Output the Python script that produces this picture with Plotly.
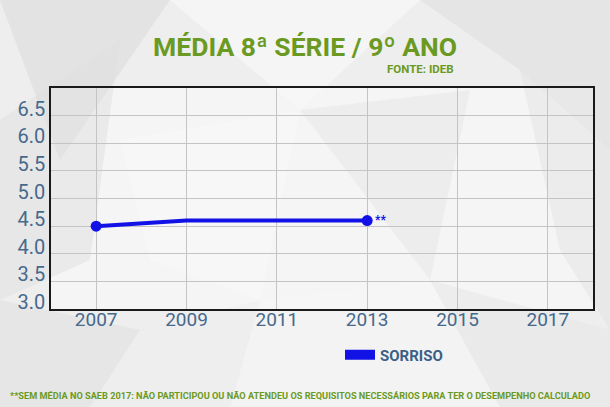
import plotly.graph_objects as go

# ---- data ----
years = [2007, 2009, 2011, 2013]
media_sorriso = [4.5, 4.6, 4.6, 4.6]
point_notes = ["", "", "", "**"]
x_ticks = [2007, 2009, 2011, 2013, 2015, 2017]
y_ticks = [3.0, 3.5, 4.0, 4.5, 5.0, 5.5, 6.0, 6.5]

title_text = "MÉDIA 8ª SÉRIE / 9º ANO"
source_text = "FONTE: IDEB"
series_name = "SORRISO"
footnote_text = ("**SEM MÉDIA NO SAEB 2017: NÃO PARTICIPOU OU NÃO ATENDEU OS REQUISITOS "
                 "NECESSÁRIOS PARA TER O DESEMPENHO CALCULADO")

# ---- style ----
W, H = 610, 407
ML, MR, MT, MB = 51, 17, 88, 98
PW, PH = W - ML - MR, H - MT - MB
GREEN = "#6b9a22"
AXIS_TXT = "#46698c"
BLUE = "#1212e6"
FONT = "Roboto"


def px_to_paper(px, py):
    return (px - ML) / PW, (H - MB - py) / PH


def poly(points, color, opacity):
    pts = [px_to_paper(x, y) for x, y in points]
    path = "M " + " L ".join(f"{x:.4f},{y:.4f}" for x, y in pts) + " Z"
    return dict(type="path", xref="paper", yref="paper", path=path,
                fillcolor=color, opacity=opacity, line=dict(width=0), layer="below")


# decorative low-poly background
bg_polys = [
    ([(0, 0), (170, 0), (60, 160)], "#dadada", 0.55),
    ([(0, 120), (120, 40), (90, 260), (0, 300)], "#e0e0e0", 0.5),
    ([(170, 0), (420, 0), (300, 110)], "#f8f8f8", 0.7),
    ([(420, 0), (610, 0), (610, 150), (520, 70)], "#dcdcdc", 0.5),
    ([(520, 70), (610, 150), (610, 330), (560, 250)], "#e4e4e4", 0.55),
    ([(120, 140), (300, 110), (260, 300), (150, 260)], "#f8f8f8", 0.7),
    ([(300, 110), (470, 90), (430, 280)], "#e6e6e6", 0.5),
    ([(0, 300), (140, 330), (90, 407), (0, 407)], "#dedede", 0.5),
    ([(260, 300), (430, 280), (500, 407), (230, 407)], "#f6f6f6", 0.6),
    ([(430, 280), (610, 330), (610, 407), (500, 407)], "#e5e5e5", 0.5),
    ([(140, 330), (260, 300), (230, 407), (90, 407)], "#ededed", 0.5),
]
shapes = [poly(p, c, o) for p, c, o in bg_polys]

fig = go.Figure()

fig.add_trace(go.Scatter(
    x=years, y=media_sorriso, mode="lines+markers+text",
    text=point_notes, textposition="middle right",
    textfont=dict(family=FONT, size=12, color=BLUE, weight="bold"),
    line=dict(color=BLUE, width=4),
    marker=dict(size=[11, 0, 0, 11], color=BLUE, opacity=1, line=dict(width=0)),
    showlegend=False, name=series_name, cliponaxis=False,
))

# legend entry (legend-only proxy)
fig.add_trace(go.Scatter(
    x=[None], y=[None], mode="lines", name=series_name,
    line=dict(color=BLUE, width=13), showlegend=True,
))

lx, ly = px_to_paper(340, 355)
sx, sy = px_to_paper(456, 69)
fx, fy = px_to_paper(300, 395)

fig.update_layout(
    width=W, height=H,
    margin=dict(l=ML, r=MR, t=MT, b=MB),
    paper_bgcolor="#eeeeee",
    plot_bgcolor="rgba(255,255,255,0.4)",
    shapes=shapes,
    title=dict(text=title_text, x=0.5, xanchor="center", xref="container",
               y=1 - 47 / H, yanchor="middle", yref="container",
               font=dict(family=FONT, size=26.5, color=GREEN, weight="bold")),
    legend=dict(x=lx, y=ly, xanchor="left", yanchor="middle",
                bgcolor="rgba(0,0,0,0)", itemwidth=30,
                font=dict(family=FONT, size=15, color="#3b5f86", weight="bold")),
    annotations=[
        dict(text=source_text, x=sx, y=sy, xref="paper", yref="paper",
             xanchor="right", yanchor="middle", showarrow=False,
             font=dict(family=FONT, size=11.5, color=GREEN, weight="bold")),
        dict(text=footnote_text, x=fx, y=fy, xref="paper", yref="paper",
             xanchor="center", yanchor="middle", showarrow=False,
             font=dict(family=FONT, size=9.2, color=GREEN, weight="bold")),
    ],
    xaxis=dict(range=[2006, 2018], tickvals=x_ticks, showgrid=True,
               gridcolor="#c4c4c4", gridwidth=1, zeroline=False,
               showline=True, linecolor="#1a1a1a", linewidth=1.5, mirror=True,
               ticklabelstandoff=-8,
               tickfont=dict(family=FONT, size=19, color=AXIS_TXT)),
    yaxis=dict(range=[3, 7], tickvals=y_ticks + [7.0], ticktext=[f"{v:.1f}" for v in y_ticks] + [""],
               showgrid=True, gridcolor="#c4c4c4", gridwidth=1, zeroline=False,
               showline=True, linecolor="#1a1a1a", linewidth=1.5, mirror=True,
               ticklabelshift=-7,
               tickfont=dict(family=FONT, size=20, color=AXIS_TXT)),
)

fig.write_html("out.html")
